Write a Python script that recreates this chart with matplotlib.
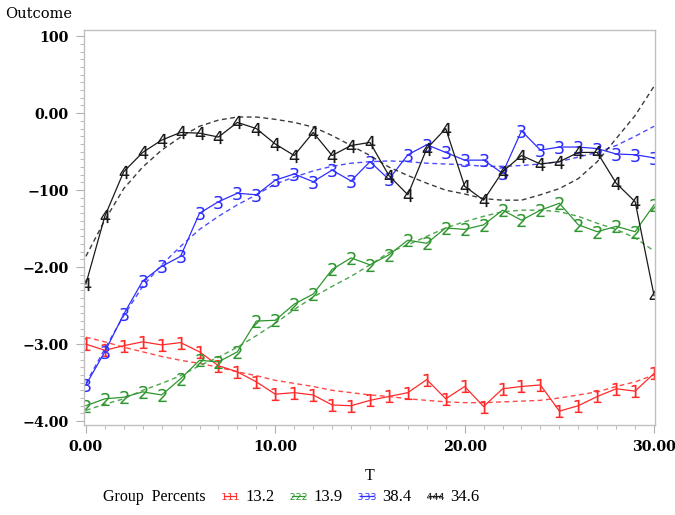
import matplotlib
matplotlib.use("Agg")
import matplotlib.pyplot as plt
from matplotlib.lines import Line2D
from matplotlib.ticker import MultipleLocator

T = list(range(31))

g1_obs = [-3.00, -3.08, -3.02, -2.97, -3.01, -2.98, -3.10, -3.28, -3.36, -3.49,
          -3.65, -3.63, -3.66, -3.79, -3.80, -3.73, -3.68, -3.63, -3.46, -3.71,
          -3.55, -3.81, -3.58, -3.55, -3.53, -3.87, -3.80, -3.68, -3.58, -3.61, -3.38]
g2_obs = [-3.80, -3.71, -3.69, -3.62, -3.66, -3.45, -3.21, -3.23, -3.10, -2.70,
          -2.69, -2.48, -2.35, -2.03, -1.88, -1.97, -1.84, -1.65, -1.69, -1.49,
          -1.51, -1.45, -1.26, -1.39, -1.26, -1.17, -1.45, -1.54, -1.47, -1.54, -1.19]
g3_obs = [-3.53, -3.10, -2.61, -2.18, -1.99, -1.86, -1.30, -1.15, -1.04, -1.06,
          -0.87, -0.79, -0.89, -0.74, -0.88, -0.63, -0.86, -0.54, -0.41, -0.51,
          -0.61, -0.61, -0.78, -0.23, -0.48, -0.44, -0.44, -0.46, -0.53, -0.54, -0.58]
g4_obs = [-2.22, -1.34, -0.76, -0.51, -0.35, -0.25, -0.26, -0.31, -0.12, -0.20,
          -0.40, -0.55, -0.25, -0.55, -0.42, -0.38, -0.81, -1.06, -0.46, -0.20,
          -0.95, -1.13, -0.76, -0.55, -0.66, -0.63, -0.51, -0.51, -0.91, -1.15, -2.37]

g1_fit = [-2.91, -2.97, -3.04, -3.10, -3.16, -3.21, -3.25, -3.30, -3.36, -3.41,
          -3.47, -3.51, -3.55, -3.60, -3.63, -3.66, -3.68, -3.71, -3.73, -3.75,
          -3.76, -3.76, -3.75, -3.74, -3.73, -3.70, -3.66, -3.62, -3.55, -3.49, -3.40]
g2_fit = [-3.86, -3.78, -3.71, -3.60, -3.51, -3.41, -3.28, -3.17, -3.04, -2.89,
          -2.73, -2.55, -2.39, -2.25, -2.12, -1.97, -1.81, -1.71, -1.60, -1.49,
          -1.41, -1.34, -1.28, -1.26, -1.26, -1.28, -1.34, -1.43, -1.51, -1.62, -1.79]
g3_fit = [-3.51, -3.06, -2.63, -2.25, -1.97, -1.73, -1.51, -1.34, -1.19, -1.06,
          -0.92, -0.83, -0.75, -0.69, -0.65, -0.63, -0.62, -0.63, -0.65, -0.66,
          -0.67, -0.69, -0.69, -0.68, -0.66, -0.63, -0.57, -0.51, -0.42, -0.30, -0.17]
g4_fit = [-1.86, -1.39, -0.98, -0.70, -0.48, -0.31, -0.17, -0.09, -0.05, -0.05,
          -0.08, -0.12, -0.18, -0.29, -0.42, -0.55, -0.70, -0.81, -0.91, -1.00,
          -1.05, -1.11, -1.13, -1.13, -1.06, -0.98, -0.85, -0.63, -0.33, -0.03, 0.35]

groups = ["1", "2", "3", "4"]
percents = ["13.2", "13.9", "38.4", "34.6"]
colors = ["#ff2a2a", "#2e962e", "#2e2eff", "#1a1a1a"]

yticks = [1.0, 0.0, -1.0, -2.0, -3.0, -4.0]
ytick_labels = ["100", "0.00", "\u2212100", "\u22122.00", "\u22123.00", "\u22124.00"]
xticks = [0, 10, 20, 30]
xtick_labels = ["0.00", "10.00", "20.00", "30.00"]

plt.rcParams['font.family'] = ['DejaVu Serif']

fig = plt.figure(figsize=(6.75, 5.15), dpi=100)
ax = fig.add_axes([0.1244, 0.1748, 0.8460, 0.7669])

obs = [g1_obs, g2_obs, g3_obs, g4_obs]
fits = [g1_fit, g2_fit, g3_fit, g4_fit]
handles = []
for g, o, f, c in zip(groups, obs, fits, colors):
    ax.plot(T, f, linestyle=(0, (3.5, 2.5)), color=c, lw=1.0, alpha=0.85)
    ax.plot(T, o, linestyle='-', color=c, lw=0.9,
            marker=f"${g}$", markersize=9.5, markeredgewidth=0.0,
            markerfacecolor=c, markeredgecolor=c)
    handles.append(Line2D([], [], color=c, lw=0.9, marker=f"${g}$",
                          markersize=5, markeredgewidth=0.0))

ax.set_xlim(-0.1, 30.05)
ax.set_ylim(-4.05, 1.08)
ax.set_xticks(xticks)
ax.set_xticklabels(xtick_labels)
ax.set_yticks(yticks)
ax.set_yticklabels(ytick_labels)
ax.xaxis.set_minor_locator(MultipleLocator(1))
ax.yaxis.set_minor_locator(MultipleLocator(0.1))
ax.tick_params(axis='both', which='major', direction='out', length=6,
               color='#b0b0b0', labelsize=10.3, pad=5)
ax.tick_params(axis='both', which='minor', direction='out', length=3,
               color='#b0b0b0')
for lab in ax.get_xticklabels() + ax.get_yticklabels():
    lab.set_fontweight('bold')
for s in ax.spines.values():
    s.set_color('#c0c0c0')
    s.set_linewidth(1.0)

fig.text(0.008, 0.972, "Outcome", fontsize=10.5, ha='left', va='center')
fig.text(0.548, 0.076, "T", fontsize=11.5, ha='center', va='center',
         family=['Liberation Serif'])
fig.text(0.152, 0.034, "Group  Percents", fontsize=11.5, ha='left', va='center',
         family=['Liberation Serif'])

leg = fig.legend(handles, percents, loc='center left', bbox_to_anchor=(0.324, 0.034),
                 ncol=4, frameon=False, numpoints=3, handlelength=1.35,
                 handletextpad=0.25, columnspacing=0.75,
                 prop={'family': 'Liberation Serif', 'size': 12},
                 borderpad=0, borderaxespad=0)

fig.savefig("out.png", dpi=100)
